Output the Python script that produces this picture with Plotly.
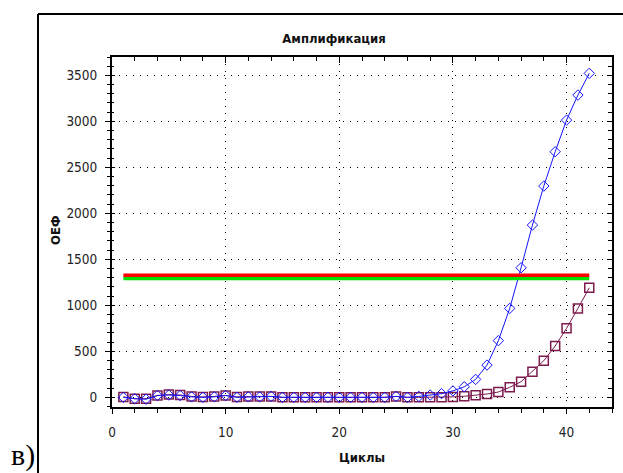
import plotly.graph_objects as go

cycles = list(range(1, 43))
sample_a = [0, -15, -20, 20, 25, 20, 5, 0, 5, 20, 0, 5, 5, 10, 0, 0, 0, 0, 0, 0, 0,
            0, 0, 0, 10, 0, 10, 25, 40, 70, 115, 195, 351, 616, 967, 1409, 1873,
            2297, 2670, 3014, 3286, 3522]
sample_b = [5, -15, -15, 20, 30, 25, 10, 5, 10, 20, 5, 10, 10, 10, 0, 0, 0, 0, 0, 0, 0,
            0, 0, 0, 10, 0, 0, 0, 0, 5, 12, 22, 36, 58, 109, 170, 279, 398, 558,
            750, 967, 1191]
threshold_x = [1, 42]
threshold_red = 1327
threshold_green = 1293

x_ticks = [0, 10, 20, 30, 40]
y_ticks = [0, 500, 1000, 1500, 2000, 2500, 3000, 3500]

FONT = "Liberation Sans Narrow, Arial Narrow, DejaVu Sans Condensed, Liberation Sans, sans-serif"
BLUE = "#1414ff"
MAROON = "#7c1a4e"

fig = go.Figure()
fig.add_trace(go.Scatter(
    x=cycles, y=sample_b, mode="lines+markers",
    line=dict(color=MAROON, width=1),
    marker=dict(symbol="square-open", size=9, color=MAROON, line=dict(width=1.5, color=MAROON)),
    showlegend=False, cliponaxis=False))
fig.add_trace(go.Scatter(
    x=cycles, y=sample_a, mode="lines+markers",
    line=dict(color=BLUE, width=1),
    marker=dict(symbol="diamond-open", size=8, color=BLUE, line=dict(width=1, color=BLUE)),
    showlegend=False, cliponaxis=False))
fig.add_trace(go.Scatter(
    x=threshold_x, y=[threshold_green] * 2, mode="lines",
    line=dict(color="#00e000", width=3.5), showlegend=False,
    xaxis="x", yaxis="y3"))
fig.add_trace(go.Scatter(
    x=threshold_x, y=[threshold_red] * 2, mode="lines",
    line=dict(color="#ff0000", width=3.5), showlegend=False,
    xaxis="x2", yaxis="y2"))

axis_common = dict(showline=True, linecolor="black", linewidth=2, zeroline=False,
                   tickcolor="black", tickfont=dict(family=FONT, size=13.5, color="#222"))

fig.update_layout(
    width=623, height=473,
    margin=dict(l=112, r=11, t=57, b=66),
    paper_bgcolor="white", plot_bgcolor="white",
    title=dict(text="<b>Амплификация</b>", x=334 / 623, xref="container", xanchor="center",
               y=1 - 38 / 473, yref="container", yanchor="middle",
               font=dict(family=FONT, size=13, color="#111")),
    xaxis=dict(range=[0, 44], tickvals=x_ticks, ticks="outside", ticklen=5, tickwidth=1,
               showgrid=True, gridcolor="black", gridwidth=1, griddash="1px,6px",
               minor=dict(dtick=2, tick0=0, ticks="outside", ticklen=4, tickcolor="black", showgrid=False),
               ticklabelstandoff=7, **axis_common),
    yaxis=dict(range=[-105, 3700], tickvals=y_ticks, ticks="outside", ticklen=5, tickwidth=1,
               showgrid=True, gridcolor="black", gridwidth=1, griddash="1px,6px",
               minor=dict(dtick=100, tick0=0, ticks="outside", ticklen=3, tickcolor="black", showgrid=False),
               ticklabelstandoff=5, **axis_common),
    xaxis2=dict(range=[0, 44], matches="x", overlaying="x", side="top", tickvals=x_ticks,
                ticks="inside", ticklen=6, showticklabels=False, showgrid=False,
                minor=dict(dtick=2, tick0=0, ticks="inside", ticklen=4, tickcolor="black", showgrid=False),
                **axis_common),
    yaxis2=dict(range=[-105, 3700], matches="y", overlaying="y", side="right", tickvals=y_ticks,
                ticks="inside", ticklen=5, showticklabels=False, showgrid=False,
                minor=dict(dtick=100, tick0=0, ticks="inside", ticklen=4, tickcolor="black", showgrid=False),
                **axis_common),
    yaxis3=dict(range=[-105, 3700], matches="y", overlaying="y", side="left", tickvals=y_ticks,
                ticks="inside", ticklen=3, showticklabels=False, showgrid=False,
                minor=dict(dtick=100, tick0=0, ticks="inside", ticklen=2, tickcolor="black", showgrid=False),
                **axis_common),
)

# axis titles
fig.add_annotation(text="<b>Циклы</b>", xref="paper", yref="paper", x=0.5, y=(407 - 457) / 350,
                   showarrow=False, font=dict(family=FONT, size=13, color="#111"),
                   xanchor="center", yanchor="middle")
fig.add_annotation(text="<b>ОЕФ</b>", xref="paper", yref="paper", x=(55 - 112) / 500, y=(407 - 230) / 350,
                   showarrow=False, textangle=-90, font=dict(family=FONT, size=13, color="#111"),
                   xanchor="center", yanchor="middle")
# panel label
fig.add_annotation(text="в)", xref="paper", yref="paper", x=(23 - 112) / 500, y=(407 - 473) / 350,
                   showarrow=False, font=dict(family="Liberation Serif, Times New Roman, serif", size=30, color="black"),
                   xanchor="center", yanchor="bottom", borderpad=0)

# outer frame (left and top edges)
fig.add_shape(type="line", xref="paper", yref="paper", x0=(38 - 112) / 500, x1=(38 - 112) / 500,
              y0=(407 - 14) / 350, y1=(407 - 480) / 350, line=dict(color="black", width=2))
fig.add_shape(type="line", xref="paper", yref="paper", x0=(38 - 112) / 500, x1=(630 - 112) / 500,
              y0=(407 - 14) / 350, y1=(407 - 14) / 350, line=dict(color="black", width=2))

fig.write_html("out.html")
